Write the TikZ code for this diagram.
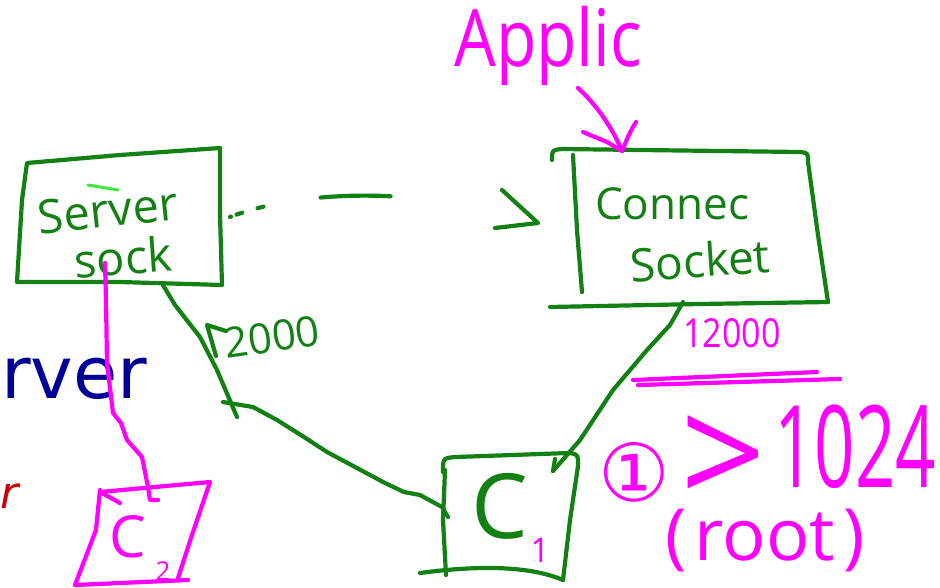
\documentclass[tikz,border=0pt]{standalone}
\usepackage{fontspec}
\setmainfont{Open Sans}
\newfontfamily\slidefont{DejaVu Sans}
\newfontfamily\symbfont{DejaVu Sans}
\usetikzlibrary{arrows.meta}
\definecolor{pen}{RGB}{18,128,18}
\definecolor{hilite}{RGB}{60,235,60}
\definecolor{ink}{RGB}{255,0,255}
\definecolor{slideblue}{RGB}{0,0,150}
\definecolor{slidered}{RGB}{204,0,0}
\newcommand{\fs}[1]{\fontsize{#1}{#1}\selectfont}

\begin{document}
\begin{tikzpicture}[x=1pt,y=-1pt,
  stroke/.style={line width=4.2pt,line cap=round,line join=round},
  greenpen/.style={stroke,draw=pen},
  pinkpen/.style={stroke,draw=ink},
  greentext/.style={inner sep=0pt,text=pen},
  pinktext/.style={inner sep=0pt,text=ink}]
\useasboundingbox (0,0) rectangle (940,587);

% ---------- left slide remnants ----------
\node[inner sep=0pt,anchor=base west,text=slideblue] (rver) at (1,398) {\slidefont\fs{72}rver};
\node[inner sep=0pt,anchor=base west,text=slidered] (redr) at (0,508) {\slidefont\itshape\fs{44}r};

% ---------- server socket ----------
\draw[greenpen] (27,163) -- (120,155) -- (220,148) -- (220,215) -- (222,285)
  -- (120,282) -- (17,282) -- (22,200) -- cycle;
\node[greentext,rotate=6] (srvtxt) at (108,210) {\fs{47}Server};
\node[greentext,rotate=4] (socktxt) at (123,257) {\fs{47}sock};
\draw[line width=3pt,line cap=round,draw=hilite] (88,185) -- (118,190);
\coordinate (srvE) at (230,217);
\coordinate (srvS) at (163,285);
\coordinate (srvP) at (105,263);

% ---------- connection socket ----------
\draw[greenpen] (552,160) .. controls (552,150) .. (562,149) -- (800,152)
  .. controls (808,153) .. (808,162) -- (818,235) -- (828,302);
\draw[greenpen] (550,307) -- (700,304) -- (828,302);
\draw[greenpen] (573,155) -- (577,230) -- (582,292);
\node[greentext] (contxt) at (672,204) {\fs{44}Connec};
\node[greentext,rotate=4] (socktxt2) at (700,260) {\fs{46}Socket};
\coordinate (conW) at (538,223);
\coordinate (conS) at (683,302);
\coordinate (conN) at (622,151);

% ---------- application label ----------
\node[pinktext,yscale=1.2] (applic) at (548,46) {\fs{66}Applic};
\coordinate (appS) at (578,88);
\draw[pinkpen] (appS) .. controls (600,108) and (614,132) .. (conN);
\draw[pinkpen] (583,132) -- (607,142) -- (conN);
\draw[pinkpen] (636,122) .. controls (630,132) .. (conN);

% ---------- port numbers ----------
\node[pinktext,xscale=0.85] (port1) at (732,333) {\fs{40}12000};
\draw[pinkpen] (633,380) -- (817,372);
\draw[pinkpen] (638,385) -- (840,379);
\node[greentext,rotate=8] (port2) at (272,337) {\fs{42}2000};

\node[pinktext] (one) at (634,472) {\symbfont\fs{80}①};
\node[pinktext] (gt) at (723,506) {\smash{\fs{150}>}};
\node[pinktext,xscale=0.62] (num) at (855,447) {\fs{114}1024};
\node[pinktext] (root) at (765,540) {\fs{72}(\hspace{8pt}root\hspace{8pt})};

% ---------- client C1 ----------
\draw[greenpen] (443,472) .. controls (443,458) .. (456,457) -- (568,453)
  .. controls (578,454) .. (578,466) -- (570,520) -- (563,580);
\draw[greenpen] (420,573) .. controls (480,565) and (530,566) .. (563,580);
\draw[greenpen] (445,470) -- (443,520) -- (446,575);
\node[greentext] (c1) at (500,506) {\fs{90}C};
\node[pinktext] (c1sub) at (540,550) {\fs{34}1};
\coordinate (c1W) at (448,517);
\coordinate (c1N) at (553,471);

% ---------- client C2 ----------
\draw[pinkpen] (100,492) -- (210,482) -- (192,535) -- (178,578);
\draw[pinkpen] (100,490) -- (96,530) -- (75,585);
\draw[pinkpen] (75,585) -- (188,580);
\node[pinktext] (c2) at (128,537) {\fs{58}C};
\node[pinktext] (c2sub) at (163,571) {\fs{26}2};
\coordinate (c2N) at (150,500);

% ---------- connectors ----------
% dashed link from the server socket to the connection socket
\draw[greenpen,dash pattern=on 1pt off 6pt on 6pt off 16pt on 6pt off 58pt on 70pt off 400pt]
  (srvE) .. controls (300,190) and (420,185) .. (conW);
\draw[greenpen] (502,190) -- (conW) -- (495,228);

% connection socket to client C1
\draw[greenpen] (conS) -- (670,325) -- (647,350) -- (613,390) -- (580,440) -- (c1N);
\draw[greenpen] (c1N) -- (555,459);

% client C1 back to the server socket
\draw[greenpen] (c1W) -- (442,507) -- (420,495) -- (404,492) -- (385,483)
  -- (327,452) -- (304,437) -- (277,420) -- (253,407) -- (223,402);
\draw[greenpen] (237,417) -- (217,370) -- (200,337) -- (175,305) -- (srvS);
\draw[greenpen] (226,331) -- (207,325) -- (216,356);

% server socket to client C2
\draw[pinkpen] (srvP) -- (106,300) -- (107,363) -- (113,413) -- (121,423)
  -- (127,440) -- (142,457) -- (148,487) -- (c2N) -- (158,500);
\draw[pinkpen] (102,493) -- (120,503);
\end{tikzpicture}
\end{document}
